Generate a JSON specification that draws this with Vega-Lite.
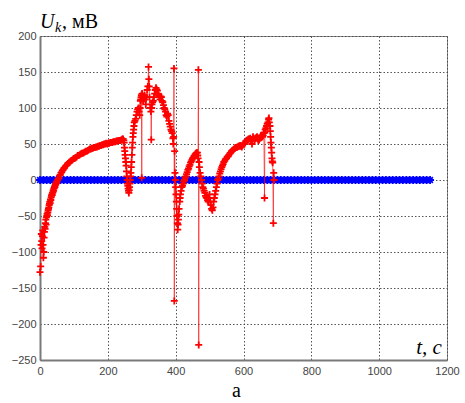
{
  "$schema": "https://vega.github.io/schema/vega-lite/v6.json",
  "width": 407,
  "height": 324,
  "autosize": "none",
  "padding": {"left": 40, "top": 36, "right": 18, "bottom": 43},
  "background": "white",
  "config": {
    "view": {"stroke": "#8a8a8a", "strokeWidth": 1},
    "axis": {
      "grid": true, "gridColor": "#444", "gridDash": [1.5, 2], "gridWidth": 1, "gridOpacity": 0.9,
      "domainColor": "#7a7a7a", "domainWidth": 2, "ticks": false, "labelOverlap": false, "labelFlush": false,
      "labelFont": "Liberation Sans", "labelFontSize": 11, "labelColor": "#444", "title": null
    }
  },
  "datasets": {
    "blue": [
      {"t":0},{"t":10},{"t":20},{"t":30},{"t":40},{"t":50},{"t":60},{"t":70},{"t":80},{"t":90},
      {"t":100},{"t":110},{"t":120},{"t":130},{"t":140},{"t":150},{"t":160},{"t":170},{"t":180},{"t":190},
      {"t":200},{"t":210},{"t":220},{"t":230},{"t":240},{"t":250},{"t":260},{"t":270},{"t":280},{"t":290},
      {"t":300},{"t":310},{"t":320},{"t":330},{"t":340},{"t":350},{"t":360},{"t":370},{"t":380},{"t":390},
      {"t":400},{"t":410},{"t":420},{"t":430},{"t":440},{"t":450},{"t":460},{"t":470},{"t":480},{"t":490},
      {"t":500},{"t":510},{"t":520},{"t":530},{"t":540},{"t":550},{"t":560},{"t":570},{"t":580},{"t":590},
      {"t":600},{"t":610},{"t":620},{"t":630},{"t":640},{"t":650},{"t":660},{"t":670},{"t":680},{"t":690},
      {"t":700},{"t":710},{"t":720},{"t":730},{"t":740},{"t":750},{"t":760},{"t":770},{"t":780},{"t":790},
      {"t":800},{"t":810},{"t":820},{"t":830},{"t":840},{"t":850},{"t":860},{"t":870},{"t":880},{"t":890},
      {"t":900},{"t":910},{"t":920},{"t":930},{"t":940},{"t":950},{"t":960},{"t":970},{"t":980},{"t":990},
      {"t":1000},{"t":1010},{"t":1020},{"t":1030},{"t":1040},{"t":1050},{"t":1060},{"t":1070},{"t":1080},{"t":1090},
      {"t":1100},{"t":1110},{"t":1120},{"t":1130},{"t":1140},{"t":1150}
    ],
    "red": [
      {"t":0,"u":-128},{"t":2,"u":-120},{"t":3,"u":-90},{"t":4,"u":-75},{"t":5,"u":-85},{"t":6,"u":-95},{"t":7,"u":-78},{"t":8,"u":-70},
      {"t":9,"u":-90},{"t":10,"u":-108},{"t":11,"u":-100},{"t":12,"u":-80},{"t":13,"u":-72},{"t":14,"u":-65},{"t":15,"u":-68},{"t":16,"u":-60},
      {"t":17,"u":-55},{"t":18,"u":-62},{"t":19,"u":-52},{"t":20,"u":-50},{"t":21,"u":-47},{"t":22,"u":-49},{"t":23,"u":-45},{"t":24,"u":-42},
      {"t":25,"u":-40},{"t":26,"u":-38},{"t":27,"u":-35},{"t":28,"u":-33},{"t":29,"u":-30},{"t":30,"u":-32},{"t":31,"u":-27},{"t":32,"u":-28},
      {"t":33,"u":-24},{"t":34,"u":-22},{"t":35,"u":-20},{"t":36,"u":-21},{"t":37,"u":-18},{"t":38,"u":-17},{"t":39,"u":-14},{"t":40,"u":-15},
      {"t":41,"u":-12},{"t":42,"u":-11},{"t":43,"u":-9},{"t":44,"u":-10},{"t":45,"u":-7},{"t":46,"u":-6},{"t":47,"u":-5},{"t":48,"u":-3},
      {"t":49,"u":-4},{"t":50,"u":-2},{"t":52,"u":0},{"t":54,"u":2},{"t":56,"u":3},{"t":58,"u":6},{"t":60,"u":7},{"t":62,"u":10},
      {"t":64,"u":11},{"t":66,"u":13},{"t":68,"u":14},{"t":70,"u":16},{"t":72,"u":17},{"t":75,"u":19},{"t":77,"u":20},{"t":80,"u":21},
      {"t":82,"u":23},{"t":85,"u":24},{"t":87,"u":25},{"t":90,"u":26},{"t":93,"u":27},{"t":96,"u":28},{"t":99,"u":30},{"t":102,"u":30},
      {"t":105,"u":31},{"t":108,"u":32},{"t":111,"u":34},{"t":114,"u":34},{"t":117,"u":35},{"t":120,"u":36},{"t":123,"u":37},{"t":126,"u":37},
      {"t":129,"u":38},{"t":132,"u":39},{"t":135,"u":40},{"t":138,"u":40},{"t":141,"u":41},{"t":144,"u":42},{"t":147,"u":43},{"t":150,"u":43},
      {"t":153,"u":44},{"t":156,"u":44},{"t":159,"u":45},{"t":162,"u":45},{"t":165,"u":46},{"t":168,"u":46},{"t":171,"u":47},{"t":174,"u":47},
      {"t":177,"u":48},{"t":180,"u":48},{"t":183,"u":49},{"t":186,"u":49},{"t":189,"u":50},{"t":192,"u":50},{"t":195,"u":51},{"t":198,"u":50},
      {"t":201,"u":51},{"t":204,"u":51},{"t":207,"u":52},{"t":210,"u":52},{"t":213,"u":52},{"t":216,"u":53},{"t":219,"u":53},{"t":222,"u":53},
      {"t":225,"u":54},{"t":228,"u":54},{"t":231,"u":55},{"t":234,"u":55},{"t":237,"u":55},{"t":240,"u":56},{"t":243,"u":57},{"t":245,"u":57},
      {"t":247,"u":55},{"t":248,"u":52},{"t":249,"u":45},{"t":250,"u":40},{"t":251,"u":35},{"t":252,"u":30},{"t":253,"u":25},{"t":254,"u":20},
      {"t":255,"u":12},{"t":256,"u":5},{"t":257,"u":0},{"t":258,"u":-5},{"t":259,"u":-8},{"t":260,"u":-12},{"t":261,"u":-15},{"t":262,"u":-18},
      {"t":263,"u":-14},{"t":264,"u":-10},{"t":265,"u":-5},{"t":266,"u":0},{"t":267,"u":5},{"t":268,"u":10},{"t":269,"u":18},{"t":270,"u":25},
      {"t":271,"u":35},{"t":272,"u":45},{"t":273,"u":52},{"t":274,"u":60},{"t":275,"u":65},{"t":276,"u":70},{"t":277,"u":75},{"t":278,"u":80},
      {"t":280,"u":82},{"t":282,"u":85},{"t":284,"u":90},{"t":286,"u":95},{"t":288,"u":98},{"t":290,"u":100},{"t":292,"u":95},{"t":294,"u":90},
      {"t":295,"u":100},{"t":296,"u":110},{"t":297,"u":112},{"t":298,"u":115},{"t":299,"u":118},{"t":300,"u":3},{"t":301,"u":120},{"t":302,"u":115},
      {"t":304,"u":110},{"t":306,"u":115},{"t":308,"u":118},{"t":310,"u":112},{"t":312,"u":105},{"t":314,"u":115},{"t":316,"u":125},{"t":318,"u":130},
      {"t":320,"u":157},{"t":321,"u":140},{"t":322,"u":130},{"t":323,"u":115},{"t":325,"u":100},{"t":327,"u":95},{"t":328,"u":56},{"t":329,"u":100},
      {"t":330,"u":105},{"t":332,"u":108},{"t":334,"u":110},{"t":336,"u":115},{"t":338,"u":120},{"t":340,"u":125},{"t":342,"u":128},{"t":344,"u":126},
      {"t":346,"u":124},{"t":348,"u":120},{"t":350,"u":118},{"t":352,"u":115},{"t":354,"u":112},{"t":356,"u":116},{"t":358,"u":115},{"t":360,"u":110},
      {"t":362,"u":108},{"t":364,"u":104},{"t":366,"u":100},{"t":368,"u":98},{"t":370,"u":95},{"t":372,"u":90},{"t":374,"u":88},{"t":376,"u":92},
      {"t":378,"u":90},{"t":380,"u":82},{"t":382,"u":78},{"t":384,"u":74},{"t":386,"u":70},{"t":388,"u":68},{"t":390,"u":65},{"t":392,"u":58},
      {"t":393,"u":50},{"t":394,"u":60},{"t":395,"u":155},{"t":396,"u":-168},{"t":397,"u":40},{"t":398,"u":10},{"t":399,"u":0},{"t":400,"u":-10},
      {"t":401,"u":-20},{"t":402,"u":-30},{"t":403,"u":-40},{"t":404,"u":-50},{"t":405,"u":-60},{"t":406,"u":-69},{"t":407,"u":-62},{"t":408,"u":-55},
      {"t":409,"u":-48},{"t":410,"u":-40},{"t":412,"u":-30},{"t":413,"u":-25},{"t":414,"u":-20},{"t":416,"u":-15},{"t":418,"u":-10},{"t":420,"u":-8},
      {"t":422,"u":-5},{"t":424,"u":-2},{"t":426,"u":0},{"t":428,"u":3},{"t":430,"u":5},{"t":432,"u":8},{"t":434,"u":11},{"t":436,"u":14},
      {"t":438,"u":16},{"t":440,"u":19},{"t":442,"u":21},{"t":444,"u":24},{"t":446,"u":26},{"t":448,"u":28},{"t":450,"u":30},{"t":452,"u":31},
      {"t":454,"u":33},{"t":456,"u":34},{"t":458,"u":36},{"t":460,"u":37},{"t":462,"u":38},{"t":464,"u":38},{"t":465,"u":34},{"t":466,"u":30},
      {"t":467,"u":153},{"t":468,"u":-229},{"t":469,"u":25},{"t":470,"u":18},{"t":472,"u":10},{"t":474,"u":5},{"t":476,"u":0},{"t":478,"u":-5},
      {"t":480,"u":-10},{"t":482,"u":-12},{"t":484,"u":-15},{"t":486,"u":-18},{"t":488,"u":-22},{"t":490,"u":-24},{"t":492,"u":-25},{"t":494,"u":-28},
      {"t":496,"u":-30},{"t":498,"u":-25},{"t":500,"u":-20},{"t":502,"u":-30},{"t":504,"u":-35},{"t":506,"u":-40},{"t":508,"u":-42},{"t":510,"u":-38},
      {"t":512,"u":-30},{"t":514,"u":-25},{"t":516,"u":-20},{"t":518,"u":-15},{"t":520,"u":-10},{"t":522,"u":-5},{"t":524,"u":0},{"t":526,"u":2},
      {"t":528,"u":5},{"t":530,"u":9},{"t":532,"u":12},{"t":534,"u":15},{"t":536,"u":18},{"t":538,"u":20},{"t":540,"u":22},{"t":542,"u":25},
      {"t":545,"u":27},{"t":547,"u":29},{"t":550,"u":30},{"t":552,"u":32},{"t":555,"u":33},{"t":557,"u":35},{"t":560,"u":37},{"t":562,"u":38},
      {"t":565,"u":40},{"t":567,"u":41},{"t":570,"u":42},{"t":572,"u":43},{"t":575,"u":44},{"t":577,"u":45},{"t":580,"u":45},{"t":582,"u":46},
      {"t":585,"u":47},{"t":587,"u":47},{"t":590,"u":48},{"t":592,"u":47},{"t":595,"u":46},{"t":597,"u":48},{"t":600,"u":50},{"t":602,"u":51},
      {"t":605,"u":52},{"t":607,"u":54},{"t":610,"u":55},{"t":612,"u":56},{"t":615,"u":57},{"t":617,"u":57},{"t":620,"u":58},{"t":622,"u":55},
      {"t":625,"u":50},{"t":626,"u":56},{"t":628,"u":60},{"t":630,"u":58},{"t":632,"u":55},{"t":634,"u":57},{"t":636,"u":58},{"t":638,"u":59},
      {"t":640,"u":60},{"t":642,"u":57},{"t":644,"u":55},{"t":646,"u":56},{"t":648,"u":58},{"t":650,"u":60},{"t":652,"u":62},{"t":654,"u":61},
      {"t":656,"u":60},{"t":658,"u":62},{"t":660,"u":65},{"t":662,"u":-25},{"t":663,"u":66},{"t":664,"u":70},{"t":666,"u":72},{"t":668,"u":75},
      {"t":670,"u":78},{"t":672,"u":80},{"t":674,"u":84},{"t":675,"u":86},{"t":676,"u":80},{"t":678,"u":75},{"t":679,"u":68},{"t":680,"u":60},
      {"t":681,"u":52},{"t":682,"u":45},{"t":683,"u":38},{"t":684,"u":30},{"t":685,"u":26},{"t":686,"u":24},{"t":688,"u":-60},{"t":689,"u":10},
      {"t":690,"u":0}
    ]
  },
  "layer": [
    {
      "data": {"name": "blue"},
      "mark": {"type": "point", "shape": "M-1,0H1M0,-1V1M-0.7,-0.7L0.7,0.7M-0.7,0.7L0.7,-0.7", "size": 64, "filled": false, "stroke": "#0000ff", "strokeWidth": 1.8, "opacity": 1},
      "encoding": {
        "x": {"field": "t", "type": "quantitative", "scale": {"domain": [0, 1200], "nice": false},
              "axis": {"tickCount": 6, "format": "d", "labelPadding": 5, "labelOverlap": false, "labelFlush": false}},
        "y": {"datum": 0, "type": "quantitative", "scale": {"domain": [-250, 200], "nice": false},
              "axis": {"tickCount": 10, "format": "d", "labelPadding": 4, "labelOverlap": false, "labelBound": false, "labelFlush": false}}
      }
    },
    {
      "data": {"name": "red"},
      "mark": {"type": "line", "color": "#ff0000", "strokeWidth": 1, "opacity": 0.6},
      "encoding": {
        "x": {"field": "t", "type": "quantitative"},
        "y": {"field": "u", "type": "quantitative"}
      }
    },
    {
      "data": {"name": "red"},
      "mark": {"type": "point", "shape": "M-1,0H1M0,-1V1", "size": 49, "filled": false, "stroke": "#ff0000", "strokeWidth": 1.8, "opacity": 1},
      "encoding": {
        "x": {"field": "t", "type": "quantitative"},
        "y": {"field": "u", "type": "quantitative"}
      }
    },
    {
      "data": {"values": [{}]},
      "mark": {"type": "text", "text": "U", "font": "Liberation Serif", "fontSize": 20, "fontStyle": "italic", "align": "left", "baseline": "alphabetic", "color": "black"},
      "encoding": {"x": {"datum": 0, "type": "quantitative"}, "y": {"datum": 211, "type": "quantitative"}}
    },
    {
      "data": {"values": [{}]},
      "mark": {"type": "text", "text": "k", "font": "Liberation Serif", "fontSize": 14, "fontStyle": "italic", "align": "left", "baseline": "alphabetic", "color": "black"},
      "encoding": {"x": {"datum": 44, "type": "quantitative"}, "y": {"datum": 206, "type": "quantitative"}}
    },
    {
      "data": {"values": [{}]},
      "mark": {"type": "text", "text": ", мВ", "font": "Liberation Serif", "fontSize": 20, "align": "left", "baseline": "alphabetic", "color": "black"},
      "encoding": {"x": {"datum": 65, "type": "quantitative"}, "y": {"datum": 211, "type": "quantitative"}}
    },
    {
      "data": {"values": [{}]},
      "mark": {"type": "text", "text": "t, c", "font": "Liberation Serif", "fontSize": 21, "fontStyle": "italic", "align": "right", "baseline": "alphabetic", "color": "black"},
      "encoding": {"x": {"datum": 1185, "type": "quantitative"}, "y": {"datum": -242, "type": "quantitative"}}
    },
    {
      "data": {"values": [{}]},
      "mark": {"type": "text", "text": "а", "font": "Liberation Serif", "fontSize": 20, "align": "center", "baseline": "alphabetic", "color": "black"},
      "encoding": {"x": {"datum": 579, "type": "quantitative"}, "y": {"datum": -301, "type": "quantitative"}}
    }
  ]
}
